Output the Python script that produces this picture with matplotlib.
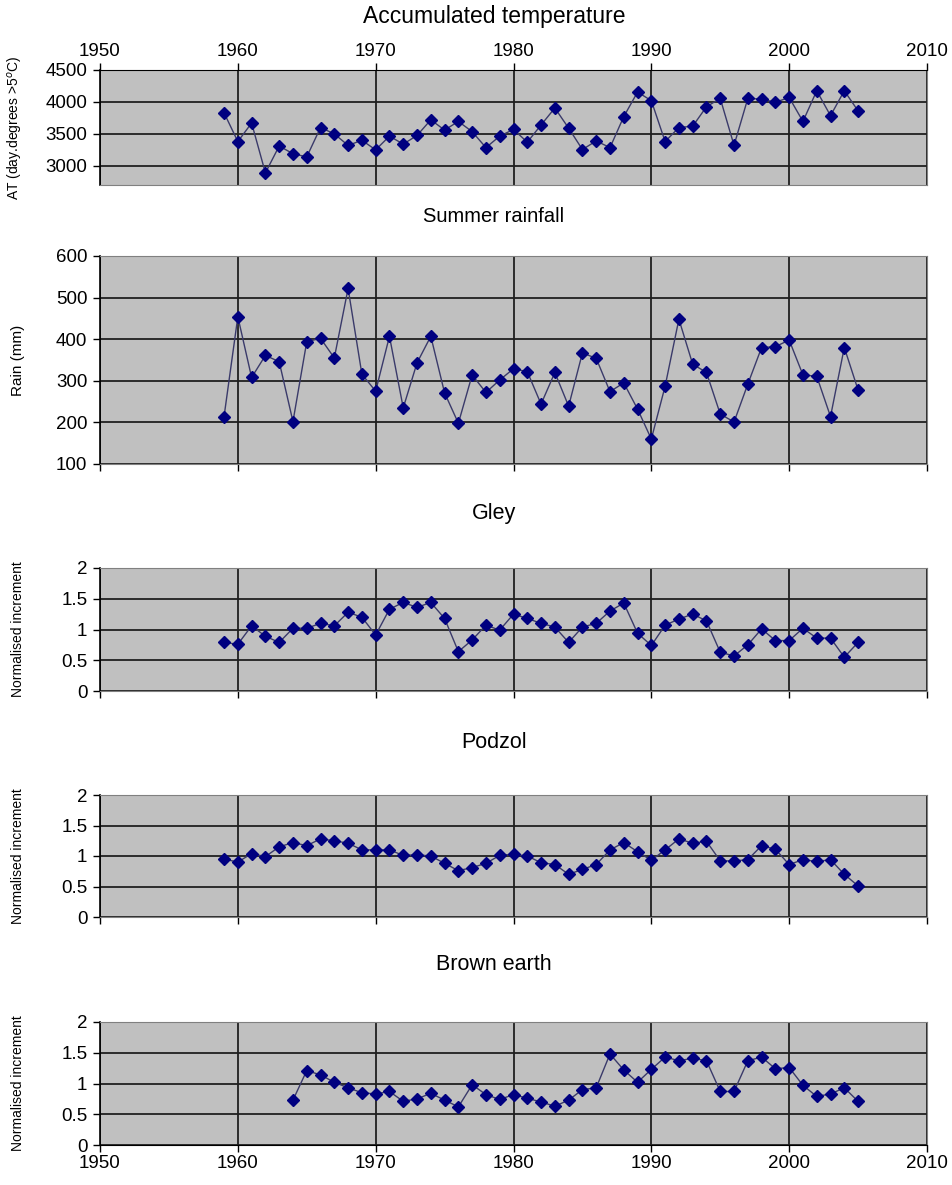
import matplotlib
matplotlib.use("Agg")
import matplotlib.pyplot as plt

plt.rcParams['font.family'] = ['Liberation Sans', 'DejaVu Sans']

# years for each series
years_full = list(range(1959, 2006))
years_brown = list(range(1964, 2006))

# Accumulated temperature (day.degrees > 5 C)
acc_temp = [3830, 3380, 3670, 2890, 3310, 3190, 3140, 3600, 3500, 3320,
            3400, 3250, 3465, 3340, 3475, 3720, 3560, 3695, 3535, 3285,
            3465, 3570, 3370, 3640, 3905, 3590, 3255, 3390, 3285, 3770,
            4155, 4020, 3380, 3600, 3620, 3925, 4055, 3320, 4055, 4045,
            3995, 4070, 3695, 4175, 3785, 4175, 3860]

# Summer rainfall (mm)
rain = [214, 454, 308, 361, 346, 202, 394, 402, 355, 522,
        316, 275, 407, 235, 343, 407, 271, 198, 314, 272,
        302, 329, 322, 244, 320, 239, 367, 354, 274, 295,
        232, 160, 287, 448, 340, 320, 220, 201, 292, 380,
        382, 398, 314, 311, 214, 380, 278]

# Normalised increments
gley = [0.79, 0.76, 1.06, 0.89, 0.79, 1.02, 1.02, 1.10, 1.06, 1.28,
        1.20, 0.91, 1.33, 1.44, 1.36, 1.44, 1.18, 0.64, 0.83, 1.07,
        0.99, 1.25, 1.18, 1.10, 1.04, 0.79, 1.04, 1.10, 1.30, 1.43,
        0.94, 0.74, 1.07, 1.17, 1.25, 1.14, 0.63, 0.57, 0.75, 1.01,
        0.82, 0.82, 1.02, 0.86, 0.86, 0.55, 0.79]

podzol = [0.95, 0.90, 1.04, 0.99, 1.15, 1.22, 1.17, 1.28, 1.25, 1.21,
          1.10, 1.10, 1.10, 1.01, 1.02, 1.00, 0.88, 0.76, 0.81, 0.88,
          1.01, 1.03, 1.00, 0.89, 0.86, 0.70, 0.78, 0.86, 1.10, 1.22,
          1.07, 0.93, 1.10, 1.28, 1.21, 1.24, 0.92, 0.92, 0.94, 1.17,
          1.11, 0.86, 0.94, 0.91, 0.94, 0.70, 0.51]

brown = [0.73, 1.21, 1.14, 1.02, 0.93, 0.85, 0.83, 0.87, 0.71, 0.75,
         0.84, 0.73, 0.62, 0.98, 0.82, 0.74, 0.82, 0.76, 0.70, 0.63,
         0.73, 0.90, 0.93, 1.48, 1.22, 1.02, 1.23, 1.43, 1.37, 1.41,
         1.37, 0.87, 0.87, 1.37, 1.43, 1.24, 1.26, 0.97, 0.79, 0.83,
         0.93, 0.71]

W, H = 953, 1185
fig = plt.figure(figsize=(W / 100, H / 100), dpi=100)

x_ticks = [1950, 1960, 1970, 1980, 1990, 2000, 2010]
norm_ticks = [0, 0.5, 1, 1.5, 2]
norm_labels = ['0', '0.5', '1', '1.5', '2']

# (title, ylabel, x, y, ylim, yticks, yticklabels, top px, bottom px, title y px, title size, label size)
panels = [
    ('Accumulated temperature', 'AT (day.degrees >5$^{o}$C)', years_full, acc_temp,
     (2700, 4500), [3000, 3500, 4000, 4500], ['3000', '3500', '4000', '4500'], 70, 185, 16, 16.5, 10),
    ('Summer rainfall', 'Rain (mm)', years_full, rain,
     (100, 600), [100, 200, 300, 400, 500, 600], ['100', '200', '300', '400', '500', '600'],
     256, 464, 217, 14.5, 11),
    ('Gley', 'Normalised increment', years_full, gley,
     (0, 2), norm_ticks, norm_labels, 568, 691, 513, 15.5, 10),
    ('Podzol', 'Normalised increment', years_full, podzol,
     (0, 2), norm_ticks, norm_labels, 795, 917, 742, 15.5, 10),
    ('Brown earth', 'Normalised increment', years_brown, brown,
     (0, 2), norm_ticks, norm_labels, 1022, 1145, 965, 15.5, 10),
]

left, right = 100, 927
for i, (title, ylab, xs, ys, ylim, yt, ytl, top, bot, ty, tsz, lsz) in enumerate(panels):
    ax = fig.add_axes([left / W, 1 - bot / H, (right - left) / W, (bot - top) / H])
    ax.set_facecolor('#c0c0c0')
    ax.plot(xs, ys, '-', color='#3a3a6a', lw=1.0, zorder=3)
    ax.plot(xs, ys, 'D', color='#000080', ms=6.5, zorder=4)
    ax.set_xlim(1950, 2010)
    ax.set_ylim(*ylim)
    ax.set_yticks(yt)
    ax.set_yticklabels(ytl)
    ax.set_xticks(x_ticks)
    ax.grid(True, color='#202020', lw=1.3)
    ax.set_axisbelow(True)
    for s in ['top', 'right', 'bottom']:
        ax.spines[s].set_color('#808080')
    ax.spines['left'].set_color('black')
    ax.spines['left'].set_linewidth(1.2)
    ax.tick_params(axis='y', direction='out', length=5, width=1, pad=4,
                   labelsize=13.5, colors='black')
    ax.tick_params(axis='x', direction='out', length=5, width=1, pad=2,
                   labelsize=13.5, colors='black')
    if i == 0:
        ax.xaxis.tick_top()
        ax.spines['top'].set_color('black')
    elif i == len(panels) - 1:
        ax.spines['bottom'].set_color('black')
    else:
        ax.tick_params(axis='x', labelbottom=False)
    ax.set_ylabel(ylab, fontsize=lsz)
    ax.yaxis.set_label_coords(-(left - 25) / (right - left), 0.5)
    fig.text(494 / W, 1 - ty / H, title, ha='center', va='center', fontsize=tsz)

fig.savefig('out.png', dpi=100)
